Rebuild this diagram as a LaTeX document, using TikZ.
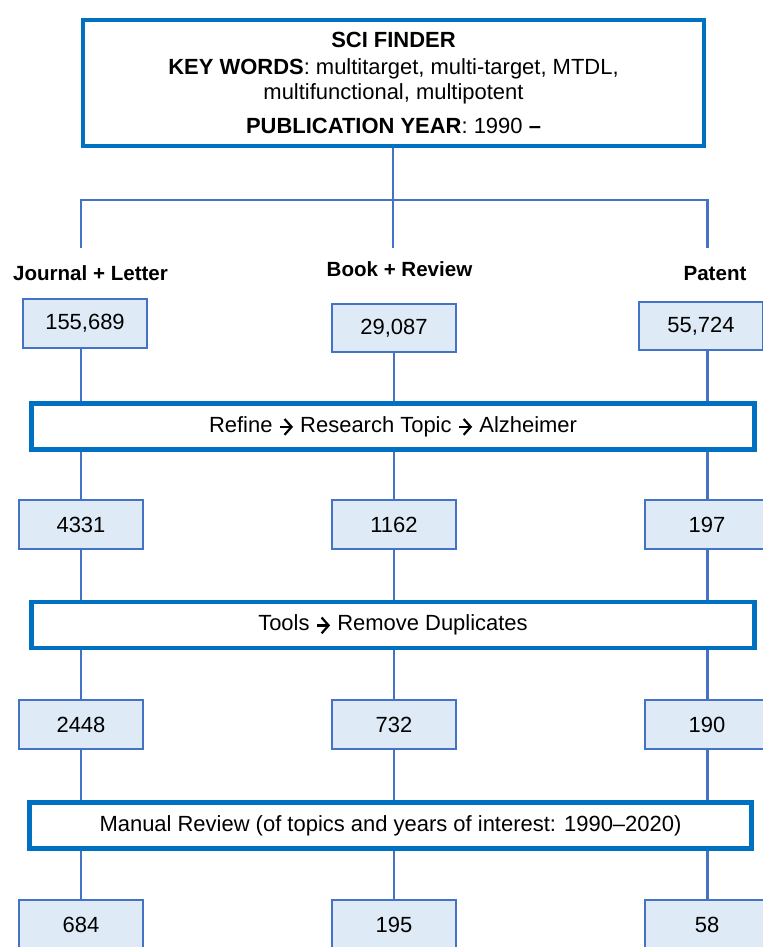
\documentclass[tikz,border=0pt]{standalone}
\usepackage{fontspec}
\setmainfont{Liberation Sans}
\usetikzlibrary{arrows.meta}
\definecolor{linkblue}{RGB}{68,114,196}
\definecolor{procblue}{RGB}{0,112,192}
\definecolor{countfill}{RGB}{222,235,247}
\newcommand{\thento}{\tikz[baseline=0pt]\draw[line width=1.25pt, -{Straight Barb[length=4pt,width=9pt]}] (0pt,3pt) -- (7.6pt,3pt);}
\begin{document}
\begin{tikzpicture}[x=0.02cm,y=-0.02cm,
	count/.style={draw=linkblue, fill=countfill, line width=1.4pt, minimum width=2.47cm, minimum height=0.97cm, inner sep=0pt, font=\fontsize{12.5}{15}\selectfont},
	process/.style={draw=procblue, line width=2.8pt, minimum width=14.46cm, minimum height=0.92cm, inner sep=0pt, font=\fontsize{12.5}{15}\selectfont},
	source/.style={font=\bfseries\fontsize{11.7}{14}\selectfont, inner sep=0pt, anchor=base},
	link/.style={draw=linkblue, line width=1.7pt}]
		\clip (0,0) rectangle (763,947); % Page.

		\node[draw=procblue, line width=2pt, minimum width=12.43cm, minimum height=2.53cm, align=center, font=\fontsize{12.5}{14}\selectfont] (finder) at (393.5,83)
			{\textbf{SCI FINDER}\\[1.4pt]
			\textbf{KEY WORDS}: multitarget, multi-target, MTDL,\\
			multifunctional, multipotent\\[5.3pt]
			\textbf{PUBLICATION YEAR}: 1990 \textbf{–}};

		\coordinate (split) at (393,200);
		\coordinate (jtop) at (81,248);
		\coordinate (btop) at (393,248);
		\coordinate (ptop) at (707,248);
		\draw[link] (finder.south -| split) -- (split) -- (btop);
		\draw[link] (jtop) |- (split) -| (ptop); % Branches.

		\node[source] (jlabel) at (90.5,280) {Journal + Letter};
		\node[source] (blabel) at (399.5,276) {Book + Review};
		\node[source] (plabel) at (715,280) {Patent};

		\node[count] (j1) at (85,323.5) {155,689};
		\node[count] (b1) at (394,328) {29,087};
		\node[count] (p1) at (701,326) {55,724};

		\node[process] (refine) at (393,426.5) {Refine \thento{} Research Topic \thento{} Alzheimer};

		\node[count] (j2) at (81,524.5) {4331};
		\node[count] (b2) at (394,524.5) {1162};
		\node[count] (p2) at (707,524.5) {197};

		\node[process] (tools) at (393,625) {Tools \thento{} Remove Duplicates};

		\node[count] (j3) at (81,724.5) {2448};
		\node[count] (b3) at (394,724.5) {732};
		\node[count] (p3) at (707,724.5) {190};

		\node[process] (manual) at (390.5,825.5) {Manual Review (of topics and years of interest: 1990–2020)};

		\node[count] (j4) at (81,924.5) {684};
		\node[count] (b4) at (394,924.5) {195};
		\node[count] (p4) at (707,924.5) {58};

		\draw[link] (j1.south -| jtop) -- (refine.north -| jtop);
		\draw[link] (b1) -- (b1 |- refine.north);
		\draw[link] (p1.south -| ptop) -- (refine.north -| ptop);
		\foreach \col in {j,b,p}{
			\draw[link] (refine.south -| \col2) -- (\col2);
			\draw[link] (\col2) -- (\col2 |- tools.north);
			\draw[link] (tools.south -| \col3) -- (\col3);
			\draw[link] (\col3) -- (\col3 |- manual.north);
			\draw[link] (manual.south -| \col4) -- (\col4);
		}
	\end{tikzpicture}
\end{document}
